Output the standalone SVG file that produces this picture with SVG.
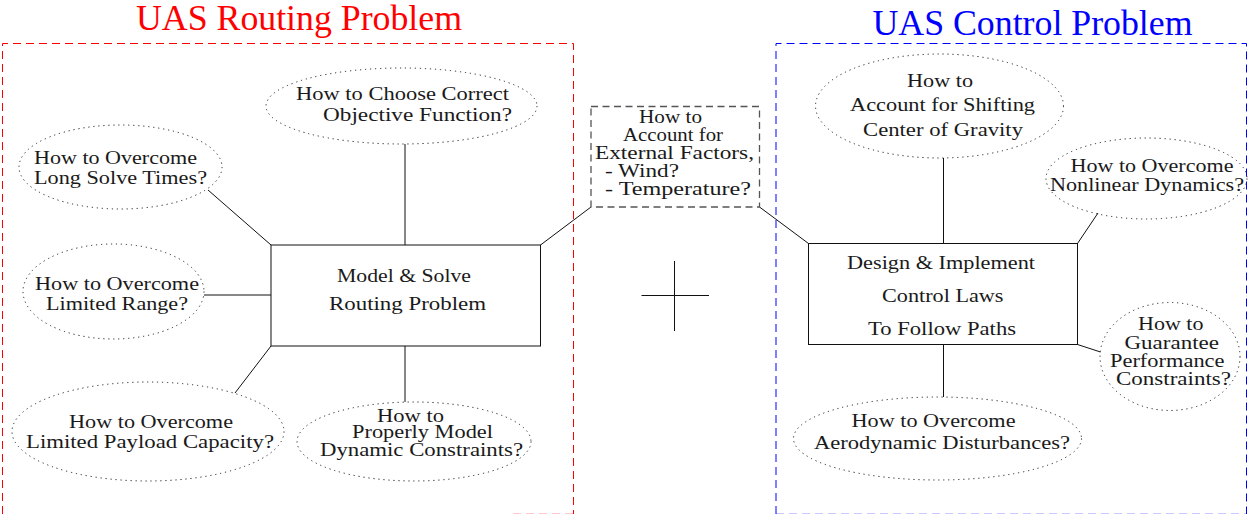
<svg xmlns="http://www.w3.org/2000/svg" width="1250" height="514" viewBox="0 0 1250 514" font-family="Liberation Serif" font-size="19.5" fill="#1a1a1a">
<style>
.title{font-size:35px}
.q{fill:none;stroke:#222;stroke-width:1;stroke-dasharray:1.2 3.8}
.box{fill:none;stroke:#111;stroke-width:1}
.gbox{fill:none;stroke:#555;stroke-width:1.3;stroke-dasharray:7 4.5}
.frame{fill:none;stroke-width:1;stroke-dasharray:8 5}
.conn line{stroke:#111;stroke-width:1}
</style>
<rect width="1250" height="514" fill="#fff"/>

<g id="routing-frame">
  <text class="title" x="136" y="30" textLength="326" lengthAdjust="spacingAndGlyphs" fill="#ff0000">UAS Routing Problem</text>
  <path class="frame" stroke="#ff0000" d="M2.5,514 V43.5 H573.5 V514"/>
  <line x1="513" y1="513.8" x2="573.5" y2="513.8" stroke="#ff0000" stroke-opacity="0.3" stroke-dasharray="8 5"/>
</g>
<g id="control-frame">
  <text class="title" x="872.5" y="35" textLength="320" lengthAdjust="spacingAndGlyphs" fill="#0000ff">UAS Control Problem</text>
  <path class="frame" stroke="#0000ff" d="M776,514 V43.5 H1246.5 V514"/>
  <line x1="776" y1="513.8" x2="1246.5" y2="513.8" stroke="#0000ff" stroke-opacity="0.3" stroke-dasharray="8 5"/>
</g>

<g id="connectors" class="conn">
  <line x1="405" y1="144" x2="405" y2="245"/>
  <line x1="208" y1="190" x2="271" y2="245"/>
  <line x1="204" y1="295" x2="271" y2="295"/>
  <line x1="235" y1="393" x2="271" y2="346"/>
  <line x1="405" y1="346" x2="405" y2="402"/>
  <line x1="540.5" y1="245" x2="591" y2="207"/>
  <line x1="759.5" y1="207" x2="808.5" y2="243.5"/>
  <line x1="943.5" y1="158" x2="943.5" y2="243.5"/>
  <line x1="1098" y1="213" x2="1077.5" y2="243.5"/>
  <line x1="1077.5" y1="344.5" x2="1100.5" y2="352"/>
  <line x1="943.5" y1="344.5" x2="943.5" y2="397"/>
</g>

<g id="objective">
  <ellipse class="q" cx="401.5" cy="106" rx="135.5" ry="38"/>
  <text x="296" y="100" textLength="213" lengthAdjust="spacingAndGlyphs">How to Choose Correct</text>
  <text x="323" y="120.5" textLength="189" lengthAdjust="spacingAndGlyphs">Objective Function?</text>
</g>
<g id="solve-times">
  <ellipse class="q" cx="120.5" cy="167" rx="101.5" ry="42"/>
  <text x="34" y="164" textLength="163" lengthAdjust="spacingAndGlyphs">How to Overcome</text>
  <text x="34" y="184" textLength="173" lengthAdjust="spacingAndGlyphs">Long Solve Times?</text>
</g>
<g id="range">
  <ellipse class="q" cx="113.5" cy="291.5" rx="90.5" ry="47.5"/>
  <text x="35" y="290" textLength="164" lengthAdjust="spacingAndGlyphs">How to Overcome</text>
  <text x="46" y="310" textLength="142" lengthAdjust="spacingAndGlyphs">Limited Range?</text>
</g>
<g id="payload">
  <ellipse class="q" cx="148" cy="431.5" rx="136" ry="49.5"/>
  <text x="69" y="428" textLength="164" lengthAdjust="spacingAndGlyphs">How to Overcome</text>
  <text x="26" y="448" textLength="248" lengthAdjust="spacingAndGlyphs">Limited Payload Capacity?</text>
</g>
<g id="dynamic">
  <ellipse class="q" cx="414" cy="441.5" rx="117" ry="39.5"/>
  <text x="377" y="422" textLength="67" lengthAdjust="spacingAndGlyphs">How to</text>
  <text x="352" y="438" textLength="141" lengthAdjust="spacingAndGlyphs">Properly Model</text>
  <text x="320" y="456" textLength="203" lengthAdjust="spacingAndGlyphs">Dynamic Constraints?</text>
</g>
<g id="routing-core">
  <rect class="box" x="271" y="245" width="269.5" height="101" stroke="#333"/>
  <text x="337" y="282" textLength="134" lengthAdjust="spacingAndGlyphs">Model &amp; Solve</text>
  <text x="329" y="310" textLength="157" lengthAdjust="spacingAndGlyphs">Routing Problem</text>
</g>

<g id="external">
  <rect class="gbox" x="591" y="106.5" width="168.5" height="100.5"/>
  <text x="639" y="123" textLength="63" lengthAdjust="spacingAndGlyphs">How to</text>
  <text x="623" y="140.5" textLength="100" lengthAdjust="spacingAndGlyphs">Account for</text>
  <text x="595" y="158.5" textLength="159" lengthAdjust="spacingAndGlyphs">External Factors,</text>
  <text x="605" y="177" textLength="74" lengthAdjust="spacingAndGlyphs">- Wind?</text>
  <text x="605" y="195" textLength="146" lengthAdjust="spacingAndGlyphs">- Temperature?</text>
</g>
<g id="plus">
  <line x1="641.5" y1="295.5" x2="709" y2="295.5" stroke="#111" stroke-width="1"/>
  <line x1="674.5" y1="261" x2="674.5" y2="331" stroke="#111" stroke-width="1"/>
</g>

<g id="gravity">
  <ellipse class="q" cx="939.5" cy="106" rx="124" ry="52"/>
  <text x="907" y="87" textLength="66" lengthAdjust="spacingAndGlyphs">How to</text>
  <text x="850" y="110.5" textLength="185" lengthAdjust="spacingAndGlyphs">Account for Shifting</text>
  <text x="863" y="135.5" textLength="160" lengthAdjust="spacingAndGlyphs">Center of Gravity</text>
</g>
<g id="nonlinear">
  <ellipse class="q" cx="1146.5" cy="178.5" rx="100.5" ry="40.5"/>
  <text x="1070.5" y="172" textLength="163" lengthAdjust="spacingAndGlyphs">How to Overcome</text>
  <text x="1050" y="190.5" textLength="194" lengthAdjust="spacingAndGlyphs">Nonlinear Dynamics?</text>
</g>
<g id="control-core">
  <rect class="box" x="808.5" y="243.5" width="269" height="101"/>
  <text x="847" y="268.5" textLength="188" lengthAdjust="spacingAndGlyphs">Design &amp; Implement</text>
  <text x="882" y="301.5" textLength="121.5" lengthAdjust="spacingAndGlyphs">Control Laws</text>
  <text x="868" y="335" textLength="148" lengthAdjust="spacingAndGlyphs">To Follow Paths</text>
</g>
<g id="performance">
  <ellipse class="q" cx="1170" cy="356.5" rx="70" ry="54"/>
  <text x="1138" y="330" textLength="65.5" lengthAdjust="spacingAndGlyphs">How to</text>
  <text x="1124.5" y="348.5" textLength="94.5" lengthAdjust="spacingAndGlyphs">Guarantee</text>
  <text x="1110" y="366.5" textLength="114.5" lengthAdjust="spacingAndGlyphs">Performance</text>
  <text x="1116" y="385" textLength="115" lengthAdjust="spacingAndGlyphs">Constraints?</text>
</g>
<g id="aerodynamic">
  <ellipse class="q" cx="937.5" cy="438.5" rx="144" ry="41.5"/>
  <text x="851.5" y="426.5" textLength="164" lengthAdjust="spacingAndGlyphs">How to Overcome</text>
  <text x="814" y="448.5" textLength="256" lengthAdjust="spacingAndGlyphs">Aerodynamic Disturbances?</text>
</g>
</svg>
